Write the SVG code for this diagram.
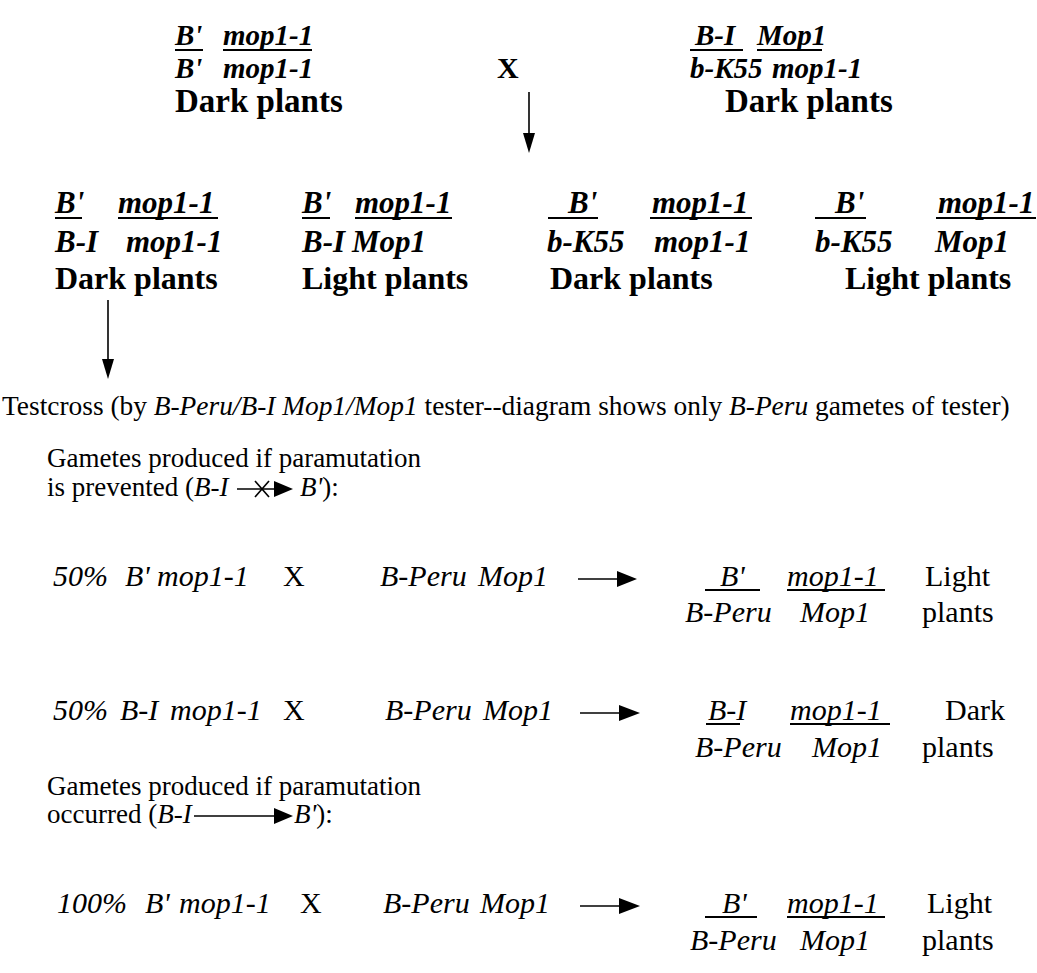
<svg xmlns="http://www.w3.org/2000/svg" width="1037" height="973" viewBox="0 0 1037 973">
  <style>
    text { font-family: "Liberation Serif", "Times New Roman", serif; fill: #000; }
    .gt { font-weight: bold; font-style: italic; font-size: 29px; }
    .gb { font-weight: bold; font-style: italic; font-size: 31px; }
    .lt { font-weight: bold; font-size: 33px; }
    .lb { font-weight: bold; font-size: 32px; }
    .xb { font-weight: bold; font-size: 30px; }
    .t27 { font-size: 27.4px; }
    .g27 { font-size: 27px; }
    .r30 { font-size: 30px; }
    .i { font-style: italic; }
    .ul { stroke: #000; stroke-width: 2; }
    .ln { stroke: #000; stroke-width: 1.6; fill: none; }
    .hd { fill: #000; }
  </style>
  <rect width="1037" height="973" fill="#fff"/>

  <!-- parental generation -->
  <g id="parent-left">
    <text class="gt" x="175" y="45">B'</text>
    <text class="gt" x="223" y="45">mop1-1</text>
    <line class="ul" x1="175" y1="50" x2="203" y2="50"/>
    <line class="ul" x1="223" y1="50" x2="312" y2="50"/>
    <text class="gt" x="175" y="78">B'</text>
    <text class="gt" x="223" y="78">mop1-1</text>
    <text class="lt" x="175" y="112">Dark plants</text>
  </g>
  <g id="cross-symbol">
    <text class="xb" x="497" y="78">X</text>
  </g>
  <g id="parent-right">
    <text class="gt" x="695" y="45">B-I</text>
    <text class="gt" x="757" y="45">Mop1</text>
    <line class="ul" x1="690" y1="50" x2="743" y2="50"/>
    <line class="ul" x1="757" y1="50" x2="822" y2="50"/>
    <text class="gt" x="690" y="78">b-K55</text>
    <text class="gt" x="772" y="78">mop1-1</text>
    <text class="lt" x="725" y="112">Dark plants</text>
  </g>

  <!-- progeny classes -->
  <g id="progeny-1">
    <text class="gb" x="55" y="213">B'</text>
    <text class="gb" x="118" y="213">mop1-1</text>
    <line class="ul" x1="55" y1="218" x2="82" y2="218"/>
    <line class="ul" x1="118" y1="218" x2="218" y2="218"/>
    <text class="gb" x="55" y="252">B-I</text>
    <text class="gb" x="126" y="252">mop1-1</text>
    <text class="lb" x="55" y="289">Dark plants</text>
  </g>
  <g id="progeny-2">
    <text class="gb" x="302" y="213">B'</text>
    <text class="gb" x="355" y="213">mop1-1</text>
    <line class="ul" x1="302" y1="218" x2="330" y2="218"/>
    <line class="ul" x1="355" y1="218" x2="452" y2="218"/>
    <text class="gb" x="302" y="252">B-I</text>
    <text class="gb" x="352" y="252">Mop1</text>
    <text class="lb" x="302" y="289">Light plants</text>
  </g>
  <g id="progeny-3">
    <text class="gb" x="568" y="213">B'</text>
    <text class="gb" x="652" y="213">mop1-1</text>
    <line class="ul" x1="548" y1="218" x2="598" y2="218"/>
    <line class="ul" x1="650" y1="218" x2="752" y2="218"/>
    <text class="gb" x="547" y="252">b-K55</text>
    <text class="gb" x="654" y="252">mop1-1</text>
    <text class="lb" x="550" y="289">Dark plants</text>
  </g>
  <g id="progeny-4">
    <text class="gb" x="835" y="213">B'</text>
    <text class="gb" x="938" y="213">mop1-1</text>
    <line class="ul" x1="815" y1="218" x2="866" y2="218"/>
    <line class="ul" x1="936" y1="218" x2="1036" y2="218"/>
    <text class="gb" x="815" y="252">b-K55</text>
    <text class="gb" x="935" y="252">Mop1</text>
    <text class="lb" x="845" y="289">Light plants</text>
  </g>

  <!-- testcross heading -->
  <g id="testcross">
    <text class="t27" x="2" y="415">Testcross (by <tspan class="i">B-Peru/B-I Mop1/Mop1</tspan> tester--diagram shows only <tspan class="i">B-Peru</tspan> gametes of tester)</text>
  </g>

  <!-- gametes if paramutation is prevented -->
  <g id="prevented-heading">
    <text class="g27" x="47" y="467">Gametes produced if paramutation</text>
    <text class="g27" x="47" y="496">is prevented (<tspan class="i">B-I</tspan></text>
    <line class="ln" x1="237" y1="489" x2="276" y2="489"/>
    <polygon class="hd" points="274,481 293,489 274,497"/>
    <line class="ln" x1="255" y1="481" x2="269" y2="497"/>
    <line class="ln" x1="269" y1="481" x2="255" y2="497"/>
    <text class="g27" x="300" y="496"><tspan class="i">B'</tspan>):</text>
  </g>
  <g id="row-prevented-bprime">
    <text class="r30 i" x="53" y="586">50%</text>
    <text class="r30 i" x="125" y="586">B'</text>
    <text class="r30 i" x="157" y="586">mop1-1</text>
    <text class="r30" x="283" y="586">X</text>
    <text class="r30 i" x="380" y="586">B-Peru</text>
    <text class="r30 i" x="478" y="586">Mop1</text>
  </g>
  <g id="result-prevented-bprime">
    <text class="r30 i" x="720" y="586">B'</text>
    <text class="r30 i" x="787" y="586">mop1-1</text>
    <line class="ul" x1="705" y1="590" x2="760" y2="590"/>
    <line class="ul" x1="787" y1="590" x2="885" y2="590"/>
    <text class="r30 i" x="685" y="622">B-Peru</text>
    <text class="r30 i" x="800" y="622">Mop1</text>
    <text class="r30" x="925" y="586">Light</text>
    <text class="r30" x="922" y="622">plants</text>
  </g>
  <g id="row-prevented-bi">
    <text class="r30 i" x="53" y="720">50%</text>
    <text class="r30 i" x="120" y="720">B-I</text>
    <text class="r30 i" x="170" y="720">mop1-1</text>
    <text class="r30" x="283" y="720">X</text>
    <text class="r30 i" x="385" y="720">B-Peru</text>
    <text class="r30 i" x="483" y="720">Mop1</text>
  </g>
  <g id="result-prevented-bi">
    <text class="r30 i" x="708" y="720">B-I</text>
    <text class="r30 i" x="790" y="720">mop1-1</text>
    <line class="ul" x1="706" y1="724" x2="740" y2="724"/>
    <line class="ul" x1="790" y1="724" x2="890" y2="724"/>
    <text class="r30 i" x="695" y="757">B-Peru</text>
    <text class="r30 i" x="812" y="757">Mop1</text>
    <text class="r30" x="945" y="720">Dark</text>
    <text class="r30" x="922" y="757">plants</text>
  </g>

  <!-- gametes if paramutation occurred -->
  <g id="occurred-heading">
    <text class="g27" x="47" y="795">Gametes produced if paramutation</text>
    <text class="g27" x="47" y="823">occurred (<tspan class="i">B-I</tspan></text>
    <line class="ln" x1="194" y1="816" x2="276" y2="816"/>
    <polygon class="hd" points="274,808 293,816 274,824"/>
    <text class="g27" x="294" y="823"><tspan class="i">B'</tspan>):</text>
  </g>
  <g id="row-occurred">
    <text class="r30 i" x="57" y="913">100%</text>
    <text class="r30 i" x="145" y="913">B'</text>
    <text class="r30 i" x="179" y="913">mop1-1</text>
    <text class="r30" x="300" y="913">X</text>
    <text class="r30 i" x="383" y="913">B-Peru</text>
    <text class="r30 i" x="480" y="913">Mop1</text>
  </g>
  <g id="result-occurred">
    <text class="r30 i" x="722" y="913">B'</text>
    <text class="r30 i" x="787" y="913">mop1-1</text>
    <line class="ul" x1="705" y1="917" x2="757" y2="917"/>
    <line class="ul" x1="787" y1="917" x2="885" y2="917"/>
    <text class="r30 i" x="690" y="950">B-Peru</text>
    <text class="r30 i" x="800" y="950">Mop1</text>
    <text class="r30" x="927" y="913">Light</text>
    <text class="r30" x="922" y="950">plants</text>
  </g>

  <!-- connectors -->
  <g id="connectors">
    <line class="ln" x1="529" y1="92" x2="529" y2="136"/>
    <polygon class="hd" points="523,133 535,133 529,153"/>
    <line class="ln" x1="108" y1="300" x2="108" y2="362"/>
    <polygon class="hd" points="102,359 114,359 108,379"/>
    <line class="ln" x1="578" y1="579" x2="620" y2="579"/>
    <polygon class="hd" points="617,571 637,579 617,587"/>
    <line class="ln" x1="580" y1="713" x2="622" y2="713"/>
    <polygon class="hd" points="619,705 640,713 619,721"/>
    <line class="ln" x1="580" y1="906" x2="622" y2="906"/>
    <polygon class="hd" points="619,898 640,906 619,914"/>
  </g>
</svg>
